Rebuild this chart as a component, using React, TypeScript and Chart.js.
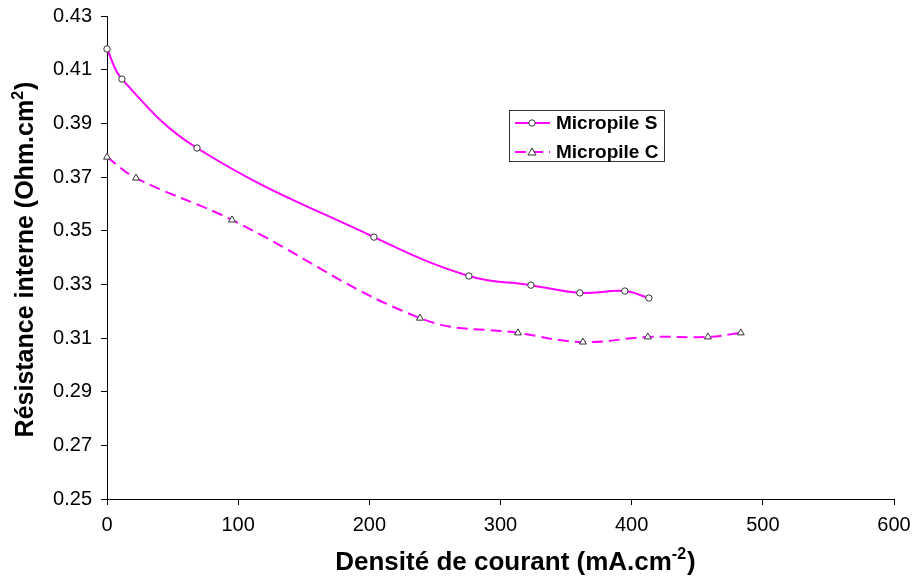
import React, { useEffect, useRef } from "react";
import { Chart, registerables } from "chart.js";

Chart.register(...registerables);

// Data
const xS = [0, 11.4, 68.6, 203.5, 275.9, 323.2, 360.5, 394.8, 413.1];
const yS = [0.4177, 0.4065, 0.3808, 0.3476, 0.3331, 0.3297, 0.3268, 0.3275, 0.3249];
const xC = [0, 22.1, 95.3, 238.6, 313.3, 362.8, 412.3, 458.1, 483.2];
const yC = [0.3774, 0.3696, 0.354, 0.3174, 0.3119, 0.3085, 0.3104, 0.3104, 0.3119];
const seriesNames = ["Micropile S", "Micropile C"];
const xTitleMain = "Densité de courant (mA.cm";
const xTitleSup = "-2";
const yTitleMain = "Résistance interne (Ohm.cm";
const yTitleSup = "2";

const FONT = "'Liberation Sans', Arial, sans-serif";
const MAGENTA = "#ff00ff";
const MARK = "#333333";

function drawRich(ctx: CanvasRenderingContext2D, main: string, sup: string, cx: number, baseY: number, size: number) {
  const supSize = Math.round(size * 0.62);
  ctx.font = `bold ${size}px ${FONT}`;
  const w1 = ctx.measureText(main).width;
  const w3 = ctx.measureText(")").width;
  ctx.font = `bold ${supSize}px ${FONT}`;
  const w2 = ctx.measureText(sup).width;
  const total = w1 + w2 + w3 + 1;
  let x = cx - total / 2;
  ctx.fillStyle = "#000";
  ctx.textAlign = "left";
  ctx.textBaseline = "alphabetic";
  ctx.font = `bold ${size}px ${FONT}`;
  ctx.fillText(main, x, baseY);
  x += w1;
  ctx.font = `bold ${supSize}px ${FONT}`;
  ctx.fillText(sup, x, baseY - size * 0.42);
  x += w2 + 1;
  ctx.font = `bold ${size}px ${FONT}`;
  ctx.fillText(")", x, baseY);
}

const decorPlugin = {
  id: "decor",
  afterDraw(chart: any) {
    const ctx: CanvasRenderingContext2D = chart.ctx;
    const area = chart.chartArea;
    ctx.save();
    // X title
    drawRich(ctx, xTitleMain, xTitleSup, (area.left + area.right) / 2 + 15, 570, 26);
    // Y title
    ctx.save();
    ctx.translate(33, (area.top + area.bottom) / 2 + 2);
    ctx.rotate(-Math.PI / 2);
    drawRich(ctx, yTitleMain, yTitleSup, 0, 0, 25);
    ctx.restore();

    // Legend
    const lx = 509.5, ly = 110.5, lw = 155, lh = 51;
    ctx.fillStyle = "#fff";
    ctx.fillRect(lx, ly, lw, lh);
    ctx.strokeStyle = "#333";
    ctx.lineWidth = 1;
    ctx.strokeRect(lx, ly, lw, lh);
    const rows = [123, 152];
    rows.forEach((ry, i) => {
      ctx.strokeStyle = MAGENTA;
      ctx.lineWidth = 2;
      ctx.setLineDash(i === 0 ? [] : [11, 6]);
      ctx.beginPath();
      ctx.moveTo(515, ry);
      ctx.lineTo(550, ry);
      ctx.stroke();
      ctx.setLineDash([]);
      ctx.lineWidth = 1;
      ctx.strokeStyle = MARK;
      ctx.fillStyle = "#fff";
      ctx.beginPath();
      if (i === 0) {
        ctx.arc(532, ry, 3.2, 0, Math.PI * 2);
      } else {
        ctx.moveTo(532, ry - 4);
        ctx.lineTo(536, ry + 3);
        ctx.lineTo(528, ry + 3);
        ctx.closePath();
      }
      ctx.fill();
      ctx.stroke();
      ctx.fillStyle = "#000";
      ctx.font = `bold 19px ${FONT}`;
      ctx.textAlign = "left";
      ctx.textBaseline = "middle";
      ctx.fillText(seriesNames[i], 556, ry + 1);
    });
    ctx.restore();
  },
};

export default function App() {
  const ref = useRef<HTMLCanvasElement>(null);
  useEffect(() => {
    if (!ref.current) return;
    const chart = new Chart(ref.current, {
      type: "line",
      data: {
        datasets: [
          {
            label: seriesNames[0],
            data: xS.map((x, i) => ({ x, y: yS[i] })),
            borderColor: MAGENTA,
            borderWidth: 2,
            tension: 0.4,
            pointStyle: "circle",
            pointRadius: 3.2,
            pointBackgroundColor: "#fff",
            pointBorderColor: MARK,
            pointBorderWidth: 1,
            clip: false,
          },
          {
            label: seriesNames[1],
            data: xC.map((x, i) => ({ x, y: yC[i] })),
            borderColor: MAGENTA,
            borderWidth: 2,
            borderDash: [11, 6],
            tension: 0.4,
            pointStyle: "triangle",
            pointRadius: 4,
            pointBackgroundColor: "#fff",
            pointBorderColor: MARK,
            pointBorderWidth: 1,
            clip: false,
          },
        ],
      },
      options: {
        animation: false,
        responsive: false,
        layout: { padding: { top: 16, right: 25, left: 0, bottom: 0 } },
        plugins: { legend: { display: false }, tooltip: { enabled: false } },
        scales: {
          x: {
            type: "linear",
            min: 0,
            max: 600,
            ticks: { stepSize: 100, color: "#000", font: { family: FONT, size: 20 }, padding: 8, maxRotation: 0 },
            grid: { drawOnChartArea: false, drawTicks: true, tickLength: 6, color: "#000" },
            border: { display: true, color: "#000", width: 1 },
            afterFit: (s: any) => { s.height = 82; s.paddingLeft = 0; s.paddingRight = 0; },
          },
          y: {
            type: "linear",
            min: 0.25,
            max: 0.43,
            ticks: {
              stepSize: 0.02,
              color: "#000",
              font: { family: FONT, size: 20 },
              padding: 9,
              callback: (v: any) => Number(v).toFixed(2),
            },
            grid: { drawOnChartArea: false, drawTicks: true, tickLength: 6, color: "#000" },
            border: { display: true, color: "#000", width: 1 },
            afterFit: (s: any) => { s.width = 107; s.paddingTop = 0; s.paddingBottom = 0; },
          },
        },
      },
      plugins: [decorPlugin],
    } as any);
    return () => chart.destroy();
  }, []);
  return (
    <div style={{ position: "fixed", left: 0, top: 0, width: 919, height: 581, background: "#fff" }}>
      <canvas ref={ref} width={919} height={581} />
    </div>
  );
}
